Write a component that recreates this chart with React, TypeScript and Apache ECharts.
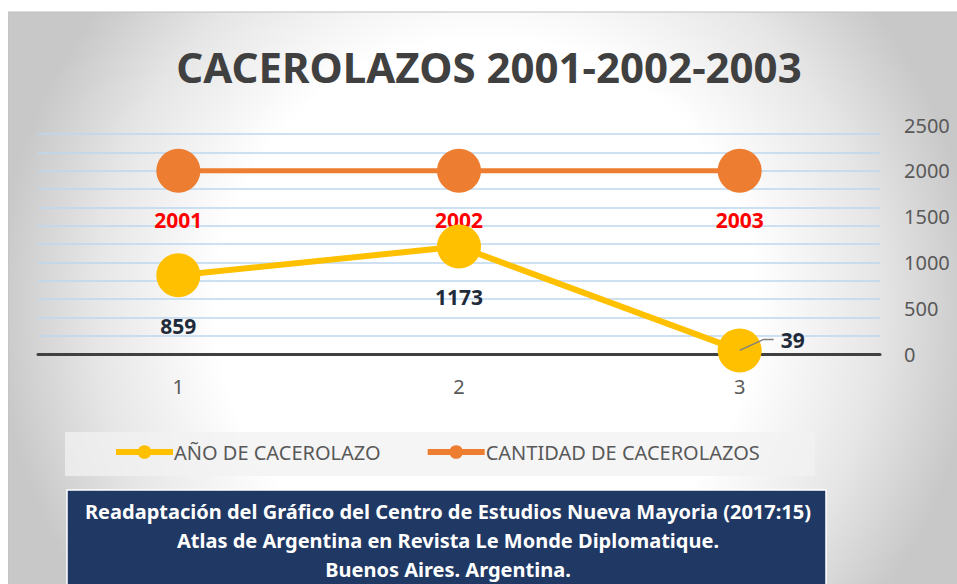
import { useEffect, useRef } from "react";
import * as echarts from "echarts";

const titleText = "CACEROLAZOS 2001-2002-2003";
const categories = ["1", "2", "3"];
const anoName = "AÑO DE CACEROLAZO";
const anoValues = [859, 1173, 39];
const cantidadName = "CANTIDAD DE CACEROLAZOS";
const cantidadValues = [2000, 2000, 2000];
const cantidadLabels = ["2001", "2002", "2003"];
const yMin = 0;
const yMax = 2500;
const yInterval = 500;
const gridLineMax = 2400;
const gridLineStep = 200;
const sourceLines = [
  "Readaptación del Gráfico del Centro de Estudios Nueva Mayoria (2017:15)",
  "Atlas de Argentina en Revista Le Monde Diplomatique.",
  "Buenos Aires. Argentina.",
];

const FONT = "'Noto Sans', 'Open Sans', sans-serif";
const YELLOW = "#FFC000";
const ORANGE = "#ED7D31";
const LABEL_DARK = "#1F2B3A";

const GRID_LEFT = 30;
const GRID_RIGHT = 77;
const GRID_TOP = 117;
const GRID_H = 229;

export default function App() {
  const ref = useRef<HTMLDivElement>(null);

  useEffect(() => {
    document.body.style.margin = "8px 0 0 8px";
    document.body.style.overflow = "hidden";
    if (!ref.current) return;
    const chart = echarts.init(ref.current, undefined, { renderer: "svg" });

    const lineGridTop = GRID_TOP + (GRID_H * (yMax - gridLineMax)) / (yMax - yMin);
    const lineGridH = GRID_TOP + GRID_H - lineGridTop;

    const baseGraphics: any[] = [
      {
        id: "bg",
        type: "rect",
        z: -10,
        silent: true,
        shape: { x: 0, y: 4, width: 960, height: 600 },
        style: {
          fill: {
            type: "radial",
            x: 478,
            y: 300,
            r: 490,
            global: true,
            colorStops: [
              { offset: 0, color: "#ffffff" },
              { offset: 0.55, color: "#ffffff" },
              { offset: 0.8, color: "#e6e6e6" },
              { offset: 1, color: "#c8c8c8" },
            ],
          },
          stroke: "#bfbfbf",
          lineWidth: 1,
        },
      },
      {
        id: "title",
        type: "text",
        z: 5,
        silent: true,
        x: 481,
        y: 58,
        style: {
          text: titleText,
          fill: "#404040",
          font: `bold 42px ${FONT}`,
          align: "center",
          verticalAlign: "middle",
        },
      },
      {
        id: "legendBox",
        type: "rect",
        z: -5,
        silent: true,
        shape: { x: 57, y: 424, width: 750, height: 44 },
        style: { fill: "rgba(242,242,242,0.75)" },
      },
      {
        id: "srcBox",
        type: "rect",
        z: 5,
        silent: true,
        shape: { x: 59, y: 482, width: 759, height: 120 },
        style: { fill: "#1F3864", stroke: "#ffffff", lineWidth: 1.5 },
      },
      ...sourceLines.map((t, i) => ({
        id: "src" + i,
        type: "text",
        z: 6,
        silent: true,
        x: 440,
        y: 503 + i * 29,
        style: {
          text: t,
          fill: "#ffffff",
          font: `bold 20px ${FONT}`,
          align: "center",
          verticalAlign: "middle",
        },
      })),
    ];

    chart.setOption({
      animation: false,
      legend: {
        left: 105,
        top: 434,
        padding: 0,
        itemGap: 44,
        itemWidth: 57,
        itemHeight: 17,
        textStyle: { fontFamily: FONT, fontSize: 20, color: "#595959", padding: [0, 0, 0, -4] },
        data: [
          { name: anoName, lineStyle: { width: 6 } },
          { name: cantidadName, lineStyle: { width: 6 } },
        ],
      },
      grid: [
        { left: GRID_LEFT, right: GRID_RIGHT, top: GRID_TOP, height: GRID_H },
        { left: GRID_LEFT, right: GRID_RIGHT, top: lineGridTop, height: lineGridH },
      ],
      xAxis: [
        {
          type: "category",
          gridIndex: 0,
          data: categories,
          boundaryGap: true,
          z: 3,
          axisTick: { show: false },
          axisLine: { show: true, lineStyle: { color: "#404040", width: 3 } },
          axisLabel: { fontFamily: FONT, fontSize: 20, color: "#595959", margin: 22 },
        },
        {
          type: "category",
          gridIndex: 1,
          data: categories,
          show: false,
        },
      ],
      yAxis: [
        {
          type: "value",
          gridIndex: 0,
          position: "right",
          min: yMin,
          max: yMax,
          interval: yInterval,
          axisLine: { show: false },
          axisTick: { show: false },
          axisLabel: {
            fontFamily: FONT,
            fontSize: 20,
            color: "#595959",
            margin: 24,
            formatter: (v: number) => String(v),
          },
          splitLine: { show: false },
        },
        {
          type: "value",
          gridIndex: 1,
          min: 0,
          max: gridLineMax,
          interval: gridLineStep,
          z: 0,
          axisLine: { show: false },
          axisTick: { show: false },
          axisLabel: { show: false },
          splitLine: { show: true, lineStyle: { color: "#BDD7EE", width: 1.5 } },
        },
      ],
      series: [
        {
          name: anoName,
          type: "line",
          xAxisIndex: 0,
          yAxisIndex: 0,
          data: anoValues.map((v, i) =>
            i === 2
              ? {
                  value: v,
                  label: { position: "right", distance: 19, offset: [0, -10] },
                }
              : v
          ),
          symbol: "circle",
          symbolSize: 44,
          z: 3,
          itemStyle: { color: YELLOW },
          lineStyle: { color: YELLOW, width: 6 },
          label: {
            show: true,
            position: "bottom",
            distance: 18,
            fontFamily: FONT,
            fontSize: 21,
            fontWeight: "bold",
            color: LABEL_DARK,
          },
        },
        {
          name: cantidadName,
          type: "line",
          xAxisIndex: 0,
          yAxisIndex: 0,
          data: cantidadValues,
          symbol: "circle",
          symbolSize: 44,
          z: 2,
          itemStyle: { color: ORANGE },
          lineStyle: { color: ORANGE, width: 5 },
          label: {
            show: true,
            position: "bottom",
            distance: 17,
            fontFamily: FONT,
            fontSize: 21,
            fontWeight: "bold",
            color: "#FF0000",
            formatter: (p: any) => cantidadLabels[p.dataIndex],
          },
        },
      ],
      graphic: baseGraphics,
    });

    const p = chart.convertToPixel({ seriesIndex: 0 }, [2, anoValues[2]]) as number[];
    if (p && isFinite(p[0])) {
      chart.setOption({
        graphic: [
          ...baseGraphics,
          {
            id: "leader",
            type: "polyline",
            z: 10,
            silent: true,
            shape: {
              points: [
                [p[0], p[1]],
                [p[0] + 24, p[1] - 11],
                [p[0] + 34, p[1] - 11],
              ],
            },
            style: { stroke: "#7f7f7f", lineWidth: 1.5, fill: "none" },
          },
        ],
      });
    }

    return () => chart.dispose();
  }, []);

  return <div ref={ref} style={{ width: 949, height: 576 }} />;
}
